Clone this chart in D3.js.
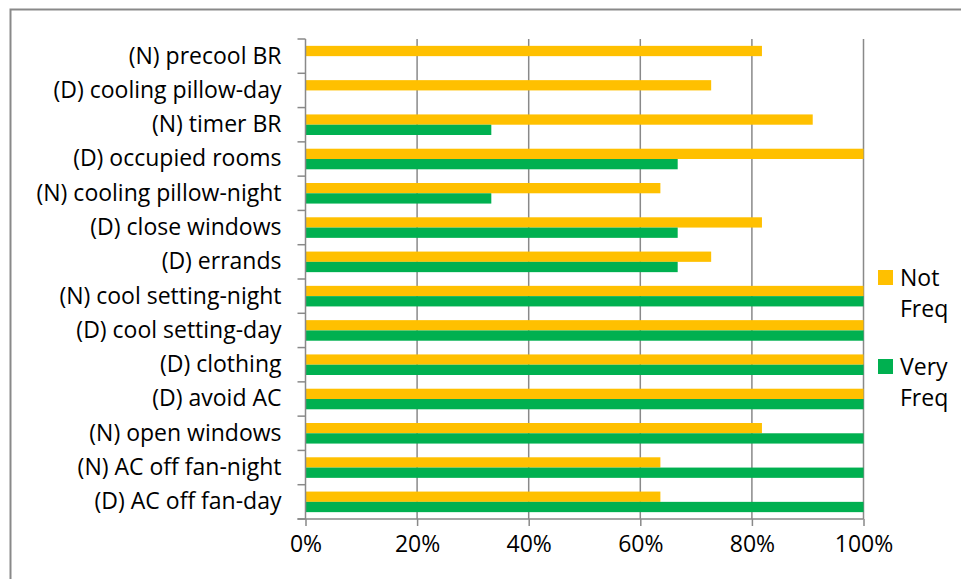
<!DOCTYPE html>
<html>
<head>
<meta charset="utf-8">
<script src="https://cdn.jsdelivr.net/npm/d3@7"></script>
<style>
  html, body { margin: 0; padding: 0; background: #fff; }
  svg { display: block; }
  text { font-family: "Open Sans", sans-serif; fill: #000; }
</style>
</head>
<body>
<svg id="chart" width="961" height="579"></svg>
<script>
// Coping strategies, share of respondents by frequency group
const categories = [
  "(N) precool BR",
  "(D) cooling pillow-day",
  "(N) timer BR",
  "(D) occupied rooms",
  "(N) cooling pillow-night",
  "(D) close windows",
  "(D) errands",
  "(N) cool setting-night",
  "(D) cool setting-day",
  "(D) clothing",
  "(D) avoid AC",
  "(N) open windows",
  "(N) AC off fan-night",
  "(D) AC off fan-day"
];
const seriesNames = ["Not Freq", "Very Freq"];
const notFreq  = [0.818, 0.727, 0.909, 1.0, 0.636, 0.818, 0.727, 1.0, 1.0, 1.0, 1.0, 0.818, 0.636, 0.636];
const veryFreq = [0.0, 0.0, 0.333, 0.667, 0.333, 0.667, 0.667, 1.0, 1.0, 1.0, 1.0, 1.0, 1.0, 1.0];
const xTicks = [0, 0.2, 0.4, 0.6, 0.8, 1.0];

const colors = { "Not Freq": "#FFC000", "Very Freq": "#00B050" };
const seriesValues = { "Not Freq": notFreq, "Very Freq": veryFreq };

const svg = d3.select("#chart");
const FONT = 23;
const FAMILY = "'Open Sans', sans-serif";
const gray = "#898989";

// outer chart frame (runs off the right and bottom edges)
svg.append("rect")
  .attr("x", 10.5).attr("y", 9.5)
  .attr("width", 1200).attr("height", 1200)
  .attr("fill", "none").attr("stroke", gray).attr("stroke-width", 2);

const plot = { left: 305.5, right: 863.5, top: 39, bottom: 519 };

const x = d3.scaleLinear().domain([0, 1]).range([plot.left, plot.right]);
const y = d3.scaleBand().domain(categories).range([plot.top, plot.bottom]).padding(0);
const sub = d3.scaleBand().domain(seriesNames)
  .range([y.bandwidth() * 0.2, y.bandwidth() * 0.8]).padding(0);

// vertical gridlines
svg.append("g").selectAll("line")
  .data(xTicks.filter(d => d > 0))
  .join("line")
  .attr("x1", d => x(d)).attr("x2", d => x(d))
  .attr("y1", plot.top).attr("y2", plot.bottom)
  .attr("stroke", gray).attr("stroke-width", 1.5);

// bars
const rows = categories.map((c, i) => ({ cat: c, i }));
const group = svg.append("g").selectAll("g")
  .data(rows).join("g")
  .attr("transform", d => `translate(0,${y(d.cat)})`);
group.selectAll("rect")
  .data(d => seriesNames.map(s => ({ s, v: seriesValues[s][d.i] })))
  .join("rect")
  .attr("x", x(0))
  .attr("y", d => sub(d.s))
  .attr("width", d => x(d.v) - x(0))
  .attr("height", sub.bandwidth())
  .attr("fill", d => colors[d.s]);

// x axis
const xAxis = d3.axisBottom(x)
  .tickValues(xTicks)
  .tickFormat(d3.format(".0%"))
  .tickSize(7).tickPadding(10);
const gx = svg.append("g")
  .attr("transform", `translate(0,${plot.bottom})`)
  .call(xAxis);
gx.select(".domain").attr("d", `M${plot.left - 8},0H${plot.right}`)
  .attr("stroke", gray).attr("stroke-width", 1.5);
gx.selectAll(".tick line").attr("stroke", gray).attr("stroke-width", 1.5);
gx.selectAll(".tick text").attr("font-size", FONT).attr("font-family", FAMILY)
  .attr("fill", "#000");

// y axis: labels at band centres, tick marks at band edges
const yAxis = d3.axisLeft(y).tickSize(0).tickPadding(24);
const gy = svg.append("g")
  .attr("transform", `translate(${plot.left},0)`)
  .call(yAxis);
gy.select(".domain").remove();
gy.selectAll(".tick text").attr("font-size", FONT).attr("font-family", FAMILY)
  .attr("fill", "#000");

const edges = d3.range(categories.length + 1).map(i => plot.top + i * y.step());
svg.append("line")
  .attr("x1", plot.left).attr("x2", plot.left)
  .attr("y1", plot.top).attr("y2", plot.bottom)
  .attr("stroke", gray).attr("stroke-width", 1.5);
svg.append("g").selectAll("line")
  .data(edges).join("line")
  .attr("x1", plot.left - 8).attr("x2", plot.left)
  .attr("y1", d => d).attr("y2", d => d)
  .attr("stroke", gray).attr("stroke-width", 1.5);

// legend
const legend = svg.append("g").attr("transform", "translate(878,270)");
const legendItems = [
  { s: "Not Freq", lines: ["Not", "Freq"], dy: 0 },
  { s: "Very Freq", lines: ["Very", "Freq"], dy: 89 }
];
legendItems.forEach(item => {
  const g = legend.append("g").attr("transform", `translate(0,${item.dy})`);
  g.append("rect").attr("width", 15).attr("height", 15).attr("fill", colors[item.s]);
  item.lines.forEach((t, k) => {
    g.append("text")
      .attr("x", 22).attr("y", 16 + k * 31)
      .attr("font-size", FONT)
      .attr("font-family", FAMILY)
      .text(t);
  });
});
</script>
</body>
</html>
